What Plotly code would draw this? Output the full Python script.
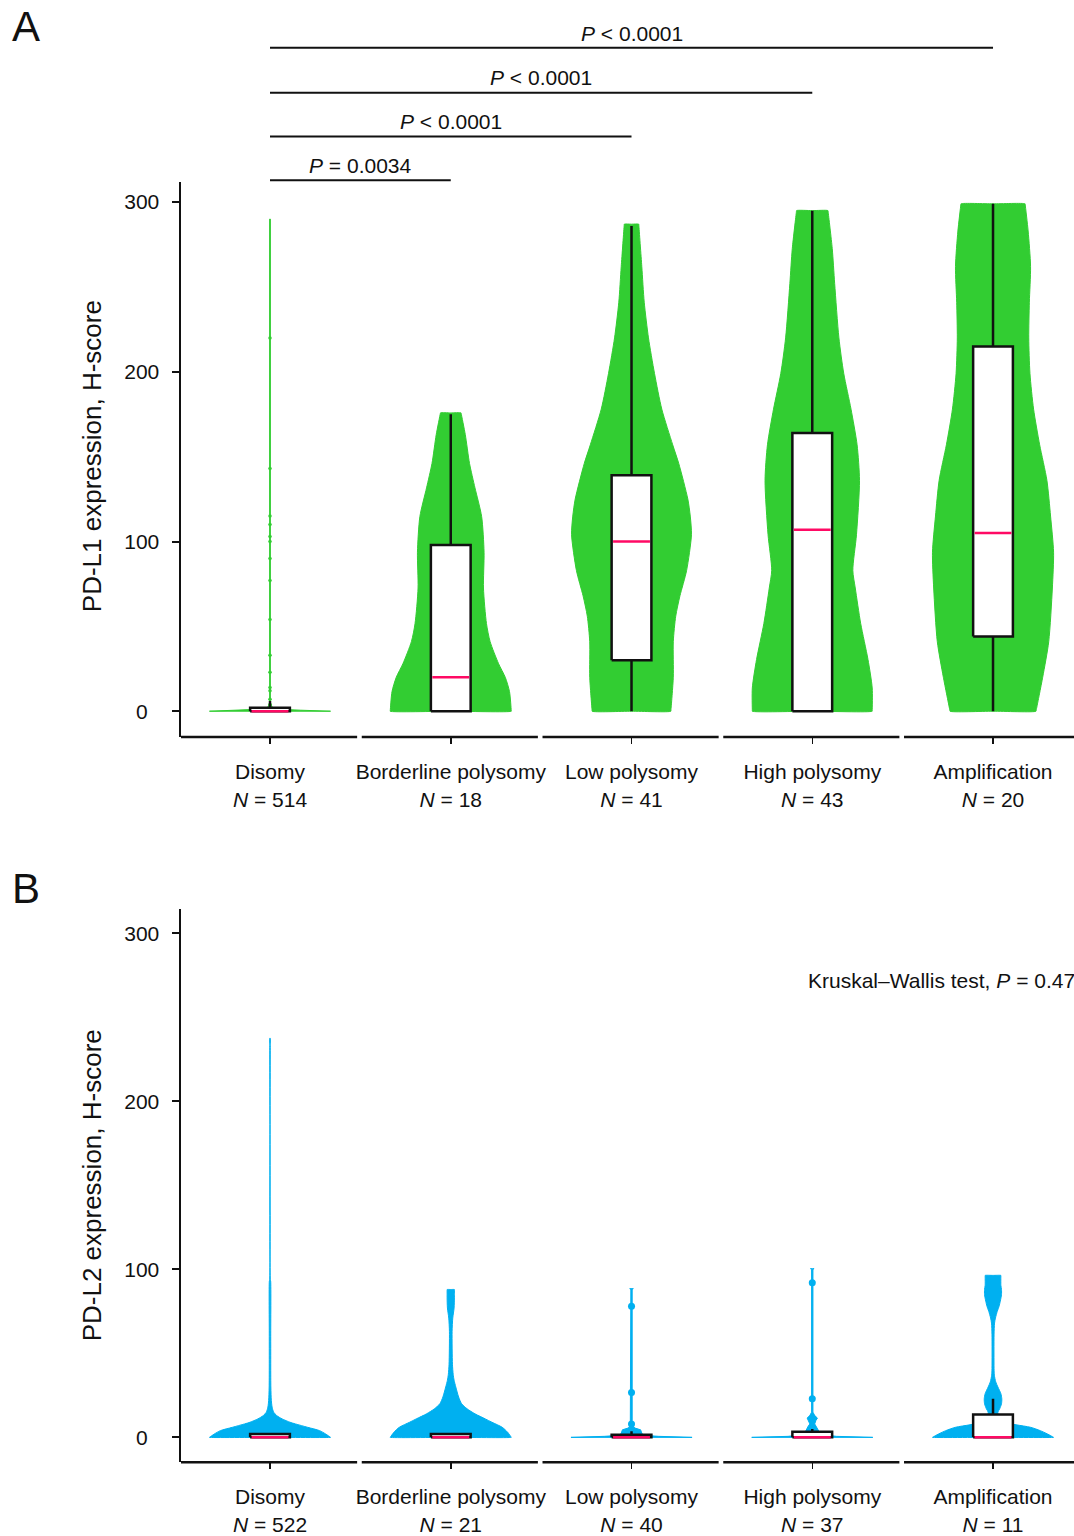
import plotly.graph_objects as go

# ---------------- data ----------------
categories = ["Disomy", "Borderline polysomy", "Low polysomy", "High polysomy", "Amplification"]
n_pdl1 = [514, 18, 41, 43, 20]
n_pdl2 = [522, 21, 40, 37, 11]

# PD-L1 box statistics (H-score)
pdl1_q1 = [0, 0, 30, 0, 44]
pdl1_median = [0, 20, 100, 107, 105]
pdl1_q3 = [2, 98, 139, 164, 215]
pdl1_lower = [0, 0, 0, 0, 0]
pdl1_upper = [6, 175, 286, 295, 299]

# PD-L2 box statistics (H-score)
pdl2_q1 = [0, 0, 0, 0, 0]
pdl2_median = [0, 0, 0, 0, 0]
pdl2_q3 = [2, 2, 1.6, 3.4, 13.6]
pdl2_lower = [0, 0, 0, 0, 0]
pdl2_upper = [2, 2, 3.6, 5, 23]

# Violin outlines: H-score levels and relative half-widths (1 = widest)
a_disomy_y = [0, 0.6, 1.2, 2.5, 5, 290]
a_disomy_w = [1.0, 0.5, 0.15, 0.03, 0.006, 0.006]
a_border_y = [0, 11.6, 20, 28, 41, 51.6, 72.6, 93.7, 114.7, 131.6, 146, 163, 175.8]
a_border_w = [1.0, 0.97, 0.9, 0.79, 0.65, 0.59, 0.54, 0.55, 0.51, 0.40, 0.31, 0.24, 0.17]
a_low_y = [0, 20, 41, 56, 68, 83, 104, 115, 125, 146, 157, 178, 199, 220, 241, 262, 287]
a_low_w = [0.65, 0.69, 0.69, 0.73, 0.80, 0.91, 0.99, 0.97, 0.93, 0.78, 0.68, 0.50, 0.38, 0.28, 0.21, 0.17, 0.12]
a_high_y = [0, 13.7, 30.5, 51.6, 72.6, 83, 104, 136, 157, 178, 199, 220, 252, 272.6, 295]
a_high_w = [0.99, 0.99, 0.92, 0.80, 0.71, 0.67, 0.73, 0.78, 0.74, 0.64, 0.52, 0.44, 0.37, 0.33, 0.26]
a_amp_y = [0, 20, 41, 72.6, 93.7, 115, 136, 157, 178, 199, 220, 241, 262, 283, 299]
a_amp_w = [0.71, 0.82, 0.92, 0.98, 1.0, 0.95, 0.89, 0.77, 0.67, 0.61, 0.59, 0.60, 0.62, 0.58, 0.53]

b_disomy_y = [0, 2, 4, 6, 8, 9, 11, 13, 15, 18, 22, 30, 60, 93, 94, 237.5]
b_disomy_w = [1.0, 0.92, 0.82, 0.62, 0.42, 0.33, 0.2, 0.11, 0.06, 0.035, 0.022, 0.014, 0.012, 0.011, 0.005, 0.004]
b_border_y = [0, 3, 6, 9, 11, 14, 17, 20, 24, 30, 34, 37.5, 43.5, 63, 71, 77, 83, 88]
b_border_w = [1.0, 0.94, 0.85, 0.68, 0.57, 0.40, 0.27, 0.18, 0.13, 0.083, 0.055, 0.04, 0.028, 0.022, 0.033, 0.055, 0.06, 0.06]
b_low_y = [0, 0.6, 1.2, 2.5, 4.5, 5.5, 6.5, 10, 88, 88.5]
b_low_w = [1.0, 0.45, 0.2, 0.17, 0.15, 0.06, 0.02, 0.011, 0.011, 0.03]
b_high_y = [0, 0.6, 1.5, 3.6, 5, 6.5, 8, 10, 11.5, 13, 15, 100, 100.4]
b_high_w = [1.0, 0.4, 0.18, 0.11, 0.09, 0.07, 0.04, 0.06, 0.085, 0.04, 0.011, 0.011, 0.03]
b_amp_y = [0, 2, 4, 6, 7.5, 9, 12, 15, 17, 20, 23, 26, 30, 33, 37, 41, 61, 68, 71, 75, 78, 81, 85, 88, 90.5, 96.4]
b_amp_w = [1.0, 0.9, 0.78, 0.62, 0.38, 0.2, 0.1, 0.08, 0.11, 0.14, 0.145, 0.13, 0.08, 0.045, 0.022, 0.017, 0.017, 0.025, 0.04, 0.07, 0.1, 0.12, 0.14, 0.14, 0.13, 0.13]

# isolated observations drawn as dots on the violin spines
a_disomy_dots = [4, 7, 12, 14, 23, 33, 54, 77, 90, 100, 103, 110, 115, 143, 220]
b_low_dots = [7.9, 26.7, 78]
b_high_dots = [11.5, 23, 92]

# comparisons (Disomy vs group index) and P labels
comp_targets = [1, 2, 3, 4]
comp_labels = ["<i>P</i> = 0.0034", "<i>P</i> < 0.0001", "<i>P</i> < 0.0001", "<i>P</i> < 0.0001"]
kw_label = "Kruskal–Wallis test, <i>P</i> = 0.47"

# ---------------- style ----------------
GREEN = "#32CD32"
BLUE = "#00B0F0"
PINK = "#FF0A64"
INK = "#111111"
FONT = "Liberation Sans, Arial, sans-serif"
MAXW = 0.335
BOXW = 0.22
W, H = 1074, 1536

XR = [-0.4924, 4.448]
XDOM = [181 / W, 1.0]
YA_DOM = [1 - 740 / H, 1 - 183 / H]
YB_DOM = [1 - 1468 / H, 1 - 913 / H]
YA_R = [-15.26, 311.7]
YB_R = [-14.82, 314.2]

fig = go.Figure()


def _side(xs, ys):
    """Edge path with tiny helper vertices beside the two end corners so a
    smoothed outline keeps the trimmed (flat) ends sharp."""
    f = 0.03
    pts = list(zip(xs, ys))
    out = [pts[0]]
    a, b = pts[0], pts[1]
    out.append((a[0] + f * (b[0] - a[0]), a[1] + f * (b[1] - a[1])))
    out += pts[1:-1]
    a, b = pts[-1], pts[-2]
    out.append((a[0] + f * (b[0] - a[0]), a[1] + f * (b[1] - a[1])))
    out.append(pts[-1])
    return out


def add_violin(idx, ys, ws, color, xa, ya, smooth):
    xr = [idx + w * MAXW for w in ws]
    xl = [idx - w * MAXW for w in ws]
    if smooth:
        right = _side(xr, ys)
        left = _side(xl, ys)[::-1]
        path = [(idx, ys[0])] + right + [(idx, ys[-1])] + left + [(idx, ys[0])]
        px = [p[0] for p in path]
        py = [p[1] for p in path]
        line = dict(color=color, width=1, shape="spline", smoothing=0.7)
    else:
        px = [idx] + xr + [idx] + xl[::-1] + [idx]
        py = [ys[0]] + ys + [ys[-1]] + ys[::-1] + [ys[0]]
        line = dict(color=color, width=1)
    fig.add_trace(go.Scatter(
        x=px, y=py, mode="lines", fill="toself", fillcolor=color, line=line,
        xaxis=xa, yaxis=ya, hoverinfo="skip", showlegend=False))


def add_boxes(q1, med, q3, lo, hi, xa, ya):
    h = BOXW / 2
    wx, wy, bx, by, mx, my = [], [], [], [], [], []
    for i in range(len(categories)):
        wx += [i, i, None, i, i, None]
        wy += [q3[i], hi[i], None, lo[i], q1[i], None]
        bx += [i - h, i + h, i + h, i - h, i - h, None]
        by += [q1[i], q1[i], q3[i], q3[i], q1[i], None]
        mx += [i - h + 0.008, i + h - 0.008, None]
        my += [med[i], med[i], None]
    fig.add_trace(go.Scatter(x=wx, y=wy, mode="lines", line=dict(color=INK, width=2.5),
                             xaxis=xa, yaxis=ya, hoverinfo="skip", showlegend=False))
    fig.add_trace(go.Scatter(x=bx, y=by, mode="lines", fill="toself", fillcolor="white",
                             line=dict(color=INK, width=2.5),
                             xaxis=xa, yaxis=ya, hoverinfo="skip", showlegend=False))
    fig.add_trace(go.Scatter(x=mx, y=my, mode="lines", line=dict(color=PINK, width=2.5),
                             xaxis=xa, yaxis=ya, hoverinfo="skip", showlegend=False))


# Panel A
for i, (ys, ws) in enumerate([(a_disomy_y, a_disomy_w), (a_border_y, a_border_w),
                              (a_low_y, a_low_w), (a_high_y, a_high_w), (a_amp_y, a_amp_w)]):
    add_violin(i, ys, ws, GREEN, "x", "y", smooth=(i > 0))
fig.add_trace(go.Scatter(x=[0] * len(a_disomy_dots), y=a_disomy_dots, mode="markers",
                         marker=dict(color=GREEN, size=3.5), xaxis="x", yaxis="y",
                         hoverinfo="skip", showlegend=False))
add_boxes(pdl1_q1, pdl1_median, pdl1_q3, pdl1_lower, pdl1_upper, "x", "y")

# Panel B
for i, (ys, ws) in enumerate([(b_disomy_y, b_disomy_w), (b_border_y, b_border_w),
                              (b_low_y, b_low_w), (b_high_y, b_high_w), (b_amp_y, b_amp_w)]):
    add_violin(i, ys, ws, BLUE, "x2", "y2", smooth=(i in (0, 1, 4)))
fig.add_trace(go.Scatter(x=[2] * len(b_low_dots) + [3] * len(b_high_dots), y=b_low_dots + b_high_dots,
                         mode="markers", marker=dict(color=BLUE, size=7), xaxis="x2", yaxis="y2",
                         hoverinfo="skip", showlegend=False))
add_boxes(pdl2_q1, pdl2_median, pdl2_q3, pdl2_lower, pdl2_upper, "x2", "y2")

# ---------------- axes ----------------
ticktext_a = [f"{c}<br><i>N</i> = {n}" for c, n in zip(categories, n_pdl1)]
ticktext_b = [f"{c}<br><i>N</i> = {n}" for c, n in zip(categories, n_pdl2)]
ytickvals = [0, 100, 200, 300]
yticktext = ["0\u2007", "100", "200", "300"]

xcommon = dict(range=XR, domain=XDOM, showgrid=False, zeroline=False, showline=False,
               ticks="outside", ticklen=6, tickwidth=1.5, tickcolor=INK,
               tickvals=list(range(len(categories))), ticklabelstandoff=10,
               tickfont=dict(family=FONT, size=21, color=INK), fixedrange=True)
ycommon = dict(showgrid=False, zeroline=False, showline=True, linecolor=INK, linewidth=2.5,
               ticks="outside", ticklen=7, tickwidth=2, tickcolor=INK,
               tickvals=ytickvals, ticktext=yticktext, ticklabelstandoff=8,
               tickfont=dict(family=FONT, size=21, color=INK), fixedrange=True)

fig.update_layout(
    width=W, height=H, margin=dict(l=0, r=0, t=0, b=0),
    paper_bgcolor="white", plot_bgcolor="white",
    xaxis=dict(anchor="y", ticktext=ticktext_a, **xcommon),
    yaxis=dict(anchor="x", domain=YA_DOM, range=YA_R, **ycommon),
    xaxis2=dict(anchor="y2", ticktext=ticktext_b, **xcommon),
    yaxis2=dict(anchor="x2", domain=YB_DOM, range=YB_R, **ycommon),
    showlegend=False,
)

shapes = []
for dom, xref in ((YA_DOM, "x"), (YB_DOM, "x2")):
    for i in range(len(categories)):
        shapes.append(dict(type="line", xref=xref, yref="paper", x0=i - 0.4924, x1=i + 0.482,
                           y0=dom[0], y1=dom[0], line=dict(color=INK, width=2.5)))
bracket_y = [1 - 181 / H, 1 - 137 / H, 1 - 93 / H, 1 - 48 / H]
label_y = [1 - 166 / H, 1 - 122 / H, 1 - 78 / H, 1 - 34 / H]
annotations = []
for t, lab, by, ly in zip(comp_targets, comp_labels, bracket_y, label_y):
    shapes.append(dict(type="line", xref="x", yref="paper", x0=0, x1=t, y0=by, y1=by,
                       line=dict(color=INK, width=2)))
    annotations.append(dict(xref="x", yref="paper", x=t / 2, y=ly, text=lab, showarrow=False,
                            xanchor="center", yanchor="middle",
                            font=dict(family=FONT, size=21, color=INK)))

annotations += [
    dict(xref="paper", yref="paper", x=10 / W, y=1 - 1 / H, text="A", showarrow=False,
         xanchor="left", yanchor="top", font=dict(family=FONT, size=42, color=INK)),
    dict(xref="paper", yref="paper", x=10 / W, y=1 - 866 / H, text="B", showarrow=False,
         xanchor="left", yanchor="top", font=dict(family=FONT, size=42, color=INK)),
    dict(xref="paper", yref="paper", x=92 / W, y=1 - 458 / H, text="PD-L1 expression, H-score",
         textangle=-90, showarrow=False, xanchor="center", yanchor="middle",
         font=dict(family=FONT, size=26, color=INK)),
    dict(xref="paper", yref="paper", x=92 / W, y=1 - 1190 / H, text="PD-L2 expression, H-score",
         textangle=-90, showarrow=False, xanchor="center", yanchor="middle",
         font=dict(family=FONT, size=26, color=INK)),
    dict(xref="x2", yref="y2", x=2.965, y=272, text=kw_label, showarrow=False,
         xanchor="left", yanchor="middle", font=dict(family=FONT, size=21, color=INK)),
]

fig.update_layout(shapes=shapes, annotations=annotations)

fig.write_html("out.html", config={"displayModeBar": False, "staticPlot": True},
               post_script="document.body.style.margin='0';document.body.style.overflow='hidden';")
